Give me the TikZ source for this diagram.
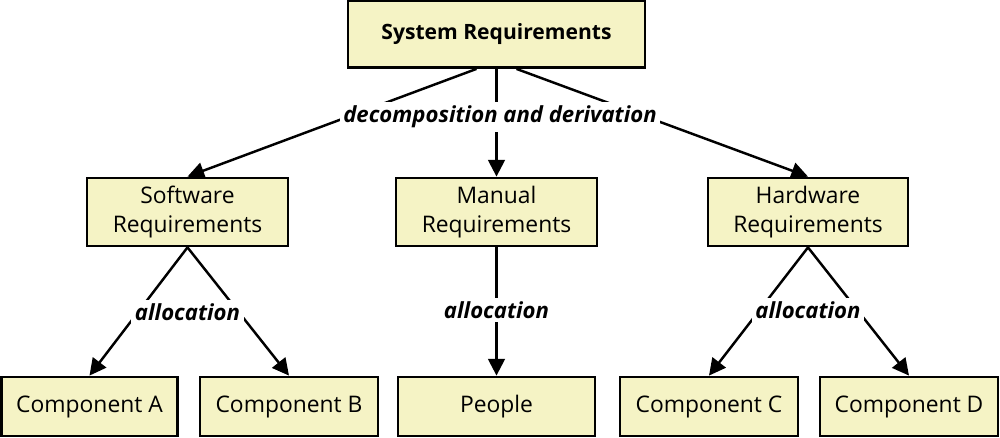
\documentclass[tikz,border=0pt]{standalone}
\usepackage{fontspec}
\setmainfont{Open Sans}
\usetikzlibrary{arrows.meta}
\definecolor{reqfill}{RGB}{245,243,197}

\begin{document}
\begin{tikzpicture}[
      req/.style={draw, line width=1.6pt, fill=reqfill, align=center, inner sep=0pt,
        font=\fontsize{13}{16.5}\selectfont},
      link/.style={line width=1.4pt, -{Triangle[length=9.5pt,width=9.5pt]}},
      tag/.style={fill=white, inner sep=2pt, font=\fontsize{12.6}{14}\selectfont\bfseries\itshape}
    ]
    \useasboundingbox (0,0) rectangle (20,8.74);

    % Top level
    \node[req, minimum width=5.94cm, minimum height=1.34cm, font=\fontsize{12}{14}\selectfont\bfseries]
      (sys) at (9.93,8.06) {System Requirements};

    % Second level
    \node[req, minimum width=4.02cm, minimum height=1.36cm] (sw) at (3.75,4.5) {Software\\Requirements};
    \node[req, minimum width=4.02cm, minimum height=1.36cm] (man) at (9.93,4.5) {Manual\\Requirements};
    \node[req, minimum width=4.0cm, minimum height=1.36cm] (hw) at (16.16,4.5) {Hardware\\Requirements};

    % Bottom level
    \node[req, minimum width=3.53cm, minimum height=1.18cm] (compA) at (1.79,0.61) {Component A};
    \node[req, minimum width=3.56cm, minimum height=1.18cm] (compB) at (5.78,0.61) {Component B};
    \node[req, minimum width=3.94cm, minimum height=1.18cm] (people) at (9.93,0.61) {People};
    \node[req, minimum width=3.56cm, minimum height=1.18cm] (compC) at (14.18,0.61) {Component C};
    \node[req, minimum width=3.56cm, minimum height=1.18cm] (compD) at (18.18,0.61) {Component D};

    % Decomposition
    \draw[link] ([xshift=-0.4cm]sys.south) -- (sw.north);
    \draw[link] (sys.south) -- (man.north);
    \draw[link] ([xshift=0.4cm]sys.south) -- (hw.north);
    \node[tag] (decomp) at (10,6.4) {decomposition and derivation};

    % Allocation
    \draw[link] (sw.south) -- (compA.north);
    \draw[link] (sw.south) -- (compB.north);
    \draw[link] (man.south) -- (people.north);
    \draw[link] (hw.south) -- (compC.north);
    \draw[link] (hw.south) -- (compD.north);
    \node[tag] (allocSw) at (3.75,2.5) {allocation};
    \node[tag] (allocMan) at (9.93,2.54) {allocation};
    \node[tag] (allocHw) at (16.16,2.54) {allocation};

\end{tikzpicture}
\end{document}
